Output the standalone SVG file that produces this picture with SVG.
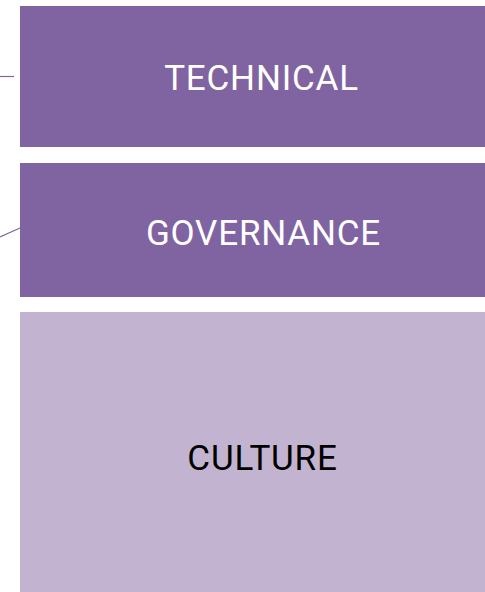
<svg xmlns="http://www.w3.org/2000/svg" width="485" height="592" viewBox="0 0 485 592">
<style>
.dark{fill:#8064A2}
.light{fill:#C2B3D1}
.lbl{font-family:Roboto,"Liberation Sans",sans-serif;font-size:35px;letter-spacing:0.8px;text-anchor:middle;dominant-baseline:central}
.w{fill:#FFFFFF}
.k{fill:#000000}
.conn{stroke:#8064A2;stroke-width:1.2;fill:none}
</style>
<rect width="485" height="592" fill="#FFFFFF"/>
<g id="connectors">
<line class="conn" x1="0" y1="76.5" x2="14" y2="76.5"/>
<line class="conn" x1="0" y1="237" x2="20" y2="228"/>
</g>
<g id="technical">
<rect class="dark" x="20" y="6" width="483" height="141"/>
<text class="lbl w" x="261.5" y="78">TECHNICAL</text>
</g>
<g id="governance">
<rect class="dark" x="20" y="163" width="483" height="134"/>
<text class="lbl w" x="263.5" y="233.5">GOVERNANCE</text>
</g>
<g id="culture">
<rect class="light" x="20" y="312" width="483" height="280"/>
<text class="lbl k" x="262.5" y="458.5">CULTURE</text>
</g>
</svg>
